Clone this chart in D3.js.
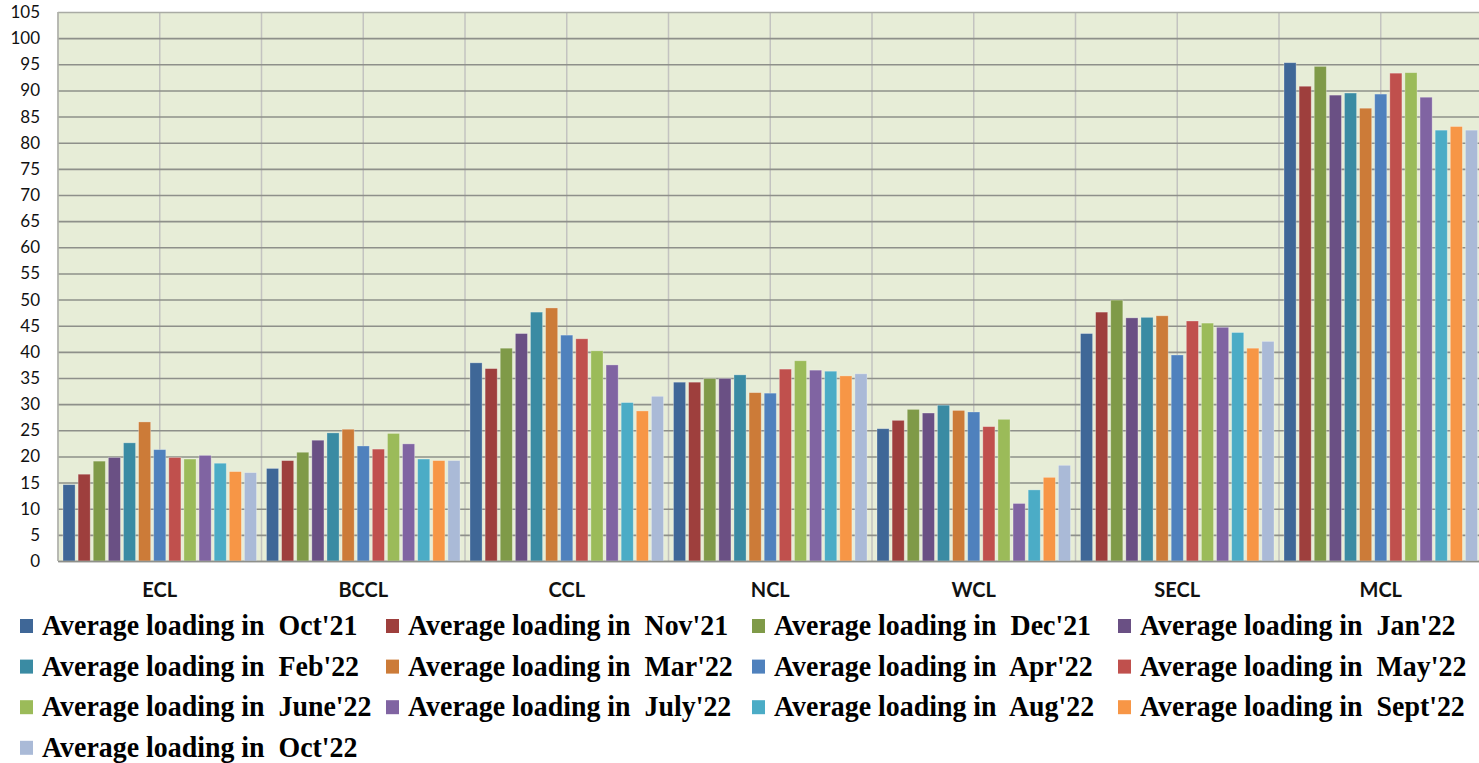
<!DOCTYPE html>
<html>
<head>
<meta charset="utf-8">
<script src="https://cdn.jsdelivr.net/npm/d3@7"></script>
<style>
  body { margin: 0; background: #fff; overflow: hidden; }
  svg { display: block; }
</style>
</head>
<body>
<div id="container"></div>
<script>
/* CONSTANTS AND GLOBALS */
const width = 1479, height = 763;
const margin = { top: 12, left: 58, bottom: 202 };
const groupWidth = 203.5;

// categories (subsidiaries)
const companies = ["ECL", "BCCL", "CCL", "NCL", "WCL", "SECL", "MCL"];

// months (series)
const months = ["Oct'21", "Nov'21", "Dec'21", "Jan'22", "Feb'22", "Mar'22", "Apr'22",
                "May'22", "June'22", "July'22", "Aug'22", "Sept'22", "Oct'22"];

const colors = ["#3f6797", "#9e3f3d", "#7f9a48", "#6a5084", "#3a8ba3", "#cc7b38", "#4f81bd",
                "#c0504d", "#9bbb59", "#8064a2", "#4bacc6", "#f79646", "#aabad7"];

// one array per company, values in month order
const ECL  = [14.6, 16.6, 19.1, 19.8, 22.6, 26.6, 21.3, 19.8, 19.5, 20.2, 18.7, 17.1, 16.9];
const BCCL = [17.7, 19.2, 20.8, 23.1, 24.5, 25.2, 22.0, 21.4, 24.4, 22.4, 19.5, 19.2, 19.2];
const CCL  = [37.9, 36.8, 40.7, 43.5, 47.6, 48.4, 43.2, 42.5, 40.2, 37.5, 30.3, 28.7, 31.5];
const NCL  = [34.2, 34.2, 34.9, 34.9, 35.6, 32.2, 32.1, 36.7, 38.3, 36.5, 36.3, 35.4, 35.8];
const WCL  = [25.3, 26.9, 29.0, 28.3, 29.8, 28.8, 28.5, 25.7, 27.1, 11.0, 13.6, 16.0, 18.3];
const SECL = [43.5, 47.6, 49.9, 46.5, 46.6, 46.9, 39.4, 45.9, 45.5, 44.7, 43.7, 40.7, 42.0];
const MCL  = [95.3, 90.8, 94.6, 89.1, 89.5, 86.6, 89.3, 93.3, 93.4, 88.7, 82.4, 83.1, 82.4];

const yTicks = d3.range(0, 106, 5);

const values = [ECL, BCCL, CCL, NCL, WCL, SECL, MCL];
const data = companies.map((c, i) => ({ company: c, vals: values[i] }));

/* SCALES */
const xScale = d3.scaleBand()
    .domain(companies)
    .range([margin.left, margin.left + groupWidth * companies.length])
    .padding(0);

const xSub = d3.scaleBand()
    .domain(months)
    .range([5, groupWidth - 5])
    .paddingInner(0.2)
    .paddingOuter(0);

const yScale = d3.scaleLinear()
    .domain([0, 105])
    .range([561, margin.top]);

const colorScale = d3.scaleOrdinal().domain(months).range(colors);

/* SVG */
const svg = d3.select("#container").append("svg")
    .attr("width", width)
    .attr("height", height);

const x0 = xScale.range()[0], x1 = xScale.range()[1];

// title: the page crops it, only the descenders peek in at the top edge
const title = svg.append("text")
    .attr("y", -4)
    .attr("font-family", "Lato, sans-serif")
    .attr("font-weight", "bold")
    .attr("font-size", 24)
    .attr("fill", "#000");
title.append("tspan").attr("x", 746).attr("text-anchor", "end").text("Rake Loading");
title.append("tspan").attr("x", 860).attr("text-anchor", "start")
    .attr("textLength", 170).text("(In Tonnes)");

// plot background
svg.append("rect")
    .attr("x", x0)
    .attr("y", yScale(105))
    .attr("width", x1 - x0)
    .attr("height", yScale(0) - yScale(105))
    .attr("fill", "#e7edd7");

// vertical gridlines at every half category
const vLines = d3.range(0, companies.length * 2 + 1).map(i => x0 + i * groupWidth / 2);
svg.append("g").selectAll("line")
    .data(vLines)
    .join("line")
    .attr("x1", d => d).attr("x2", d => d)
    .attr("y1", yScale(105)).attr("y2", yScale(0))
    .attr("stroke", "#c3c3c0")
    .attr("stroke-width", 1.5);

// horizontal gridlines
svg.append("g")
    .attr("transform", `translate(${x0},0)`)
    .call(d3.axisLeft(yScale).tickValues(yTicks).tickSize(-(x1 - x0)).tickFormat(""))
    .call(g => g.select(".domain").remove())
    .call(g => g.selectAll(".tick line")
        .attr("stroke", d => d === 105 ? "#a9aba4" : "#8e908a")
        .attr("stroke-width", 1.6));

// y tick labels
svg.append("g")
    .attr("transform", `translate(${x0},0)`)
    .call(d3.axisLeft(yScale).tickValues(yTicks).tickSize(0).tickPadding(18))
    .call(g => g.select(".domain").remove())
    .call(g => g.selectAll(".tick text")
        .attr("font-family", "Lato, sans-serif")
        .attr("font-size", 17)
        .attr("fill", "#111"));

// bars
const groups = svg.append("g").selectAll("g")
    .data(data)
    .join("g")
    .attr("transform", d => `translate(${xScale(d.company)},0)`);

groups.selectAll("rect")
    .data(d => d.vals.map((v, i) => ({ month: months[i], value: v })))
    .join("rect")
    .attr("x", d => xSub(d.month))
    .attr("width", xSub.bandwidth())
    .attr("y", d => yScale(d.value))
    .attr("height", d => yScale(0) - yScale(d.value))
    .attr("fill", d => colorScale(d.month))
    .attr("stroke", "rgba(255,255,255,0.35)")
    .attr("stroke-width", 0.8);

// x axis baseline + category labels
svg.append("g")
    .attr("transform", `translate(0,${yScale(0)})`)
    .call(d3.axisBottom(xScale).tickSize(0).tickPadding(22))
    .call(g => g.select(".domain").attr("stroke", "#8e908a").attr("stroke-width", 1.6))
    .call(g => g.selectAll(".tick text")
        .attr("font-family", "Lato, sans-serif")
        .attr("font-weight", "bold")
        .attr("font-size", 20)
        .attr("fill", "#111"));

// left axis line
svg.append("line")
    .attr("x1", x0).attr("x2", x0)
    .attr("y1", yScale(105)).attr("y2", yScale(0))
    .attr("stroke", "#b0b2ab").attr("stroke-width", 1.5);

/* LEGEND */
const legendCols = 4, colStep = 366, rowStep = 40.6;
const legend = svg.append("g").attr("transform", "translate(20,635)");

const item = legend.selectAll("g")
    .data(months)
    .join("g")
    .attr("transform", (d, i) => `translate(${(i % legendCols) * colStep},${Math.floor(i / legendCols) * rowStep})`);

item.append("rect")
    .attr("x", 0).attr("y", -16)
    .attr("width", 13).attr("height", 14)
    .attr("fill", d => colorScale(d));

item.append("text")
    .attr("transform", "translate(22,0) scale(0.93,1)")
    .attr("font-family", "'Liberation Serif', 'Times New Roman', serif")
    .attr("font-weight", "bold")
    .attr("font-size", 30)
    .attr("fill", "#000")
    .style("white-space", "pre")
    .text(d => "Average loading in  " + d);
</script>
</body>
</html>
